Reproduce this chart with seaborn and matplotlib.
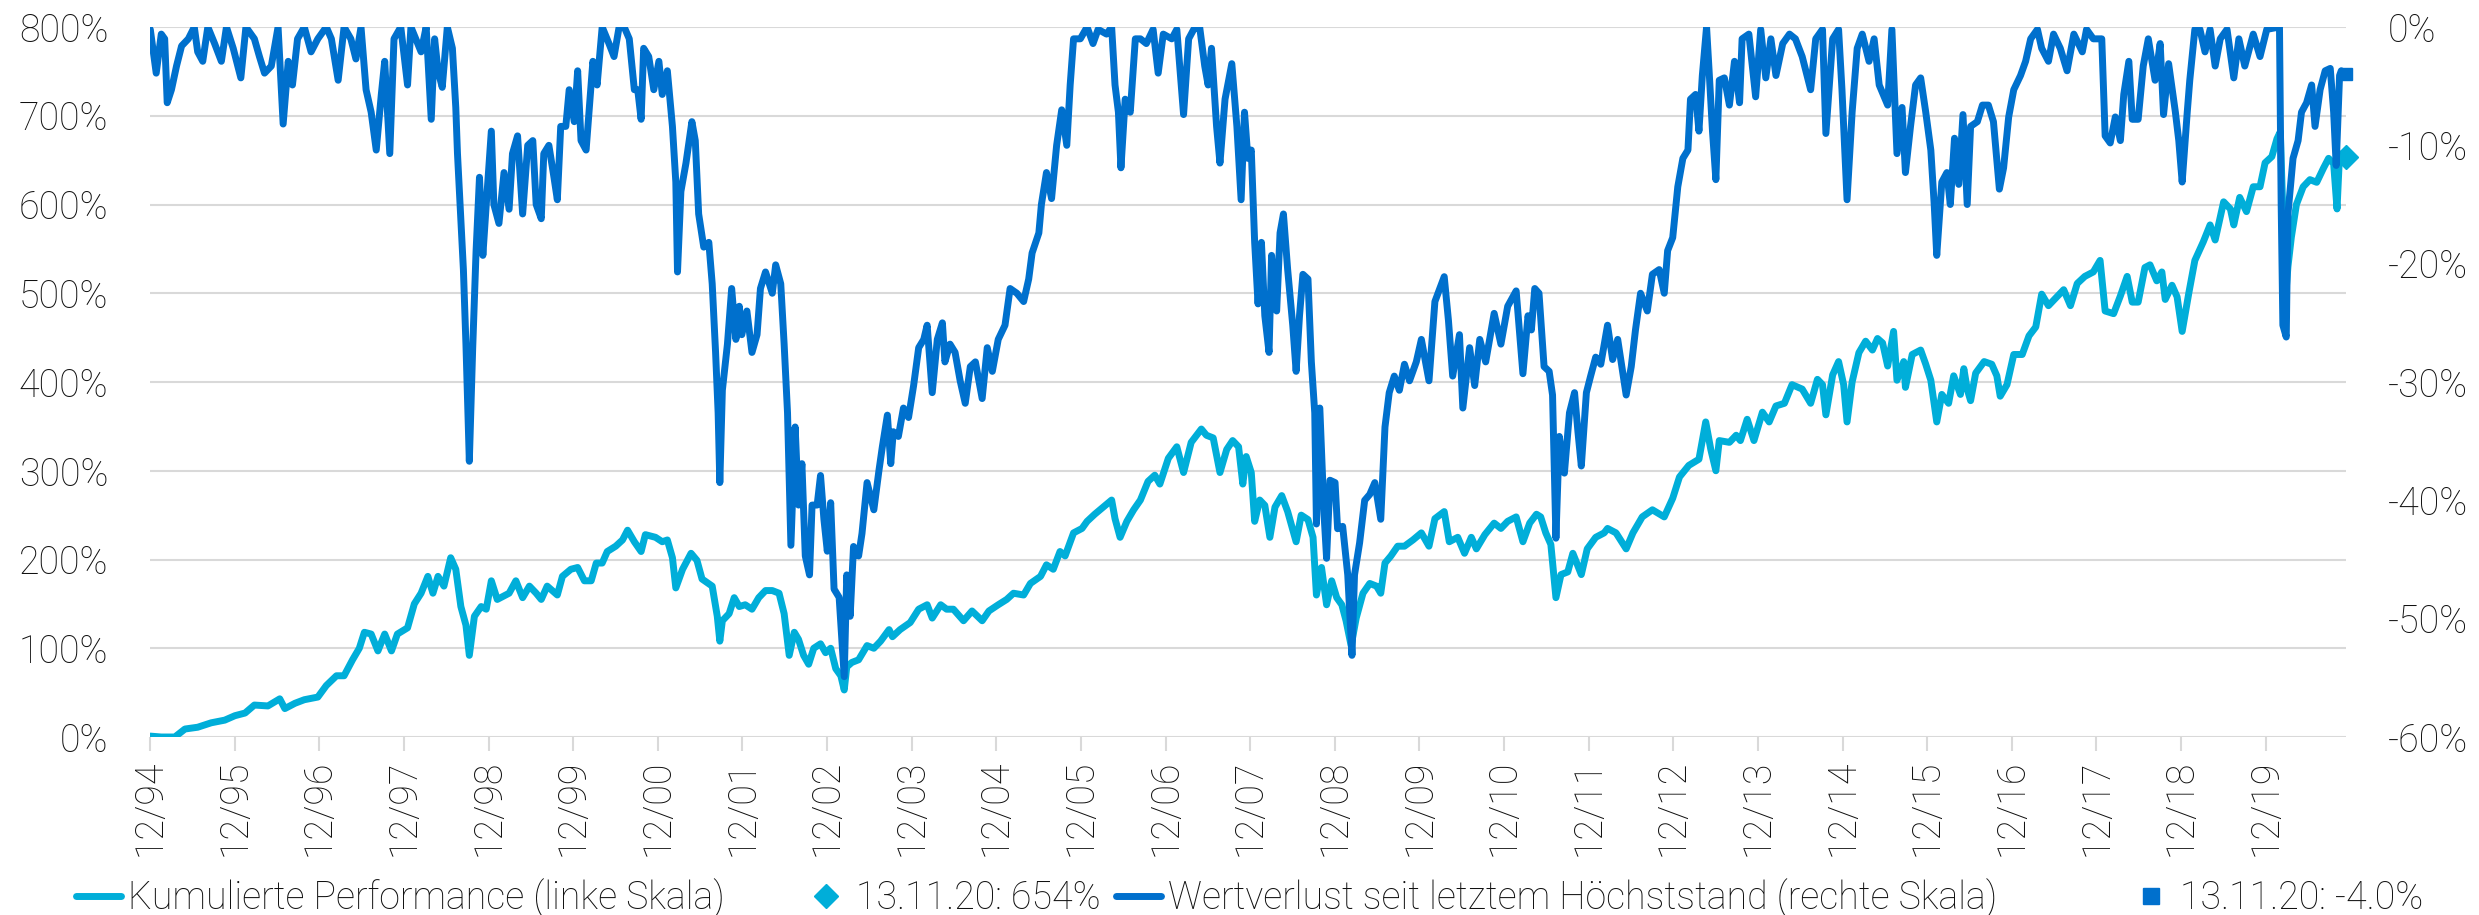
import matplotlib
matplotlib.use("Agg")
import matplotlib.pyplot as plt
import seaborn as sns
import pandas as pd
from matplotlib.lines import Line2D

# Kumulierte Performance (linke Skala), Jahr als Dezimalzahl / Wert in %
perf_jahr = [
    1994.92, 1995.05, 1995.21, 1995.33, 1995.48, 1995.64, 1995.80, 1995.92, 1996.04, 1996.15,
    1996.31, 1996.45, 1996.51, 1996.63, 1996.74, 1996.90, 1997.00, 1997.12, 1997.21, 1997.31,
    1997.39, 1997.45, 1997.53, 1997.61, 1997.69, 1997.77, 1997.84, 1997.96, 1998.04, 1998.12,
    1998.20, 1998.26, 1998.32, 1998.39, 1998.47, 1998.53, 1998.59, 1998.65, 1998.69, 1998.75,
    1998.83, 1998.89, 1998.95, 1999.02, 1999.12,
    1999.16, 1999.24, 1999.32, 1999.40, 1999.48, 1999.54, 1999.61, 1999.73, 1999.79, 1999.89,
    1999.97, 2000.05, 2000.13, 2000.19, 2000.26, 2000.32, 2000.42, 2000.50, 2000.56, 2000.64,
    2000.72, 2000.77, 2000.89, 2000.97, 2001.03, 2001.09, 2001.13, 2001.21, 2001.31, 2001.38,
    2001.44, 2001.56, 2001.62, 2001.65, 2001.68, 2001.76, 2001.82, 2001.88, 2001.95, 2002.03,
    2002.11, 2002.19, 2002.27, 2002.35, 2002.41, 2002.47, 2002.53, 2002.58, 2002.64, 2002.70,
    2002.76, 2002.84, 2002.90, 2002.96, 2003.02, 2003.08, 2003.12, 2003.15, 2003.21, 2003.29,
    2003.39,
    2003.47, 2003.55, 2003.65, 2003.69, 2003.78, 2003.90, 2004.00, 2004.10, 2004.16, 2004.26,
    2004.33, 2004.41, 2004.53, 2004.63, 2004.75, 2004.83, 2004.94, 2005.04, 2005.12, 2005.24,
    2005.32, 2005.44, 2005.51, 2005.59, 2005.67, 2005.73, 2005.83, 2005.93, 2005.99, 2006.08,
    2006.18, 2006.28, 2006.32, 2006.38, 2006.46, 2006.54, 2006.62, 2006.71, 2006.79, 2006.85,
    2006.95, 2007.05, 2007.13, 2007.22, 2007.34, 2007.40, 2007.48, 2007.56, 2007.64, 2007.71,
    2007.78, 2007.83, 2007.87, 2007.93, 2007.97, 2008.03, 2008.09, 2008.15, 2008.21, 2008.29,
    2008.36, 2008.46, 2008.52, 2008.60, 2008.66, 2008.70, 2008.76, 2008.82, 2008.88, 2008.94,
    2009.00, 2009.05, 2009.11, 2009.17, 2009.25, 2009.33, 2009.41, 2009.46, 2009.51, 2009.58,
    2009.66, 2009.74, 2009.84, 2009.94, 2010.03, 2010.10, 2010.21, 2010.27, 2010.37, 2010.45,
    2010.53, 2010.59, 2010.69, 2010.80, 2010.88, 2010.96, 2011.06, 2011.14, 2011.22, 2011.30,
    2011.35, 2011.41, 2011.47, 2011.53, 2011.59, 2011.67, 2011.73, 2011.83, 2011.90, 2012.00,
    2012.10,
    2012.14, 2012.24, 2012.36, 2012.44, 2012.55, 2012.67, 2012.81, 2012.91, 2012.99, 2013.10,
    2013.22, 2013.30, 2013.36, 2013.42, 2013.46, 2013.58, 2013.66, 2013.71, 2013.79, 2013.87,
    2013.97, 2014.05, 2014.13, 2014.23, 2014.32, 2014.44, 2014.54, 2014.62, 2014.68, 2014.72,
    2014.80, 2014.87, 2014.93, 2014.97, 2015.03, 2015.11, 2015.19, 2015.27, 2015.33, 2015.39,
    2015.45, 2015.52, 2015.56, 2015.64, 2015.66, 2015.74, 2015.84, 2015.90, 2015.96, 2016.03,
    2016.09, 2016.17, 2016.23, 2016.31, 2016.35,
    2016.39, 2016.43, 2016.49, 2016.59, 2016.68, 2016.74, 2016.78, 2016.86, 2016.94, 2017.04,
    2017.12, 2017.20, 2017.27, 2017.35, 2017.43, 2017.53, 2017.61, 2017.69, 2017.78, 2017.88,
    2017.96, 2018.02, 2018.12, 2018.20, 2018.28, 2018.34, 2018.41, 2018.49, 2018.55, 2018.63,
    2018.69, 2018.73, 2018.81, 2018.87, 2018.93, 2019.01, 2019.08, 2019.18, 2019.26, 2019.32,
    2019.42, 2019.50, 2019.54, 2019.61, 2019.69, 2019.77, 2019.85, 2019.91, 2019.99, 2020.05,
    2020.09, 2020.12, 2020.14, 2020.18, 2020.22, 2020.28, 2020.36, 2020.44, 2020.52, 2020.60,
    2020.66, 2020.72, 2020.76, 2020.79, 2020.866,
]
perf_wert = [
    1, 0, 0, 9, 11, 16, 19, 24, 27, 36,
    35, 43, 32, 38, 42, 45, 58, 69, 69, 87,
    100, 118, 116, 97, 116, 97, 116, 123, 150, 162,
    181, 162, 181, 170, 202, 189, 147, 126, 92, 136,
    147, 144, 176, 155, 160,
    162, 176, 157, 170, 162, 155, 170, 160, 181, 189,
    191, 176, 176, 196, 196, 209, 215, 222, 233, 220,
    209, 228, 225, 220, 222, 202, 168, 189, 207, 199,
    178, 170, 136, 108, 131, 139, 157, 147, 149, 144,
    157, 165, 165, 162, 139, 92, 118, 110, 92, 82,
    100, 105, 95, 100, 77, 69, 53, 79, 84, 87,
    103,
    100, 108, 121, 113, 121, 129, 144, 149, 134, 149,
    144, 144, 131, 142, 131, 142, 149, 155, 162, 160,
    173, 181, 194, 189, 209, 204, 230, 235, 243, 251,
    259, 267, 246, 225, 243, 256, 267, 288, 295, 285,
    314, 327, 298, 332, 347, 340, 337, 298, 324, 334,
    327, 285, 316, 298, 243, 267, 261, 225, 259, 272,
    254, 220, 250, 245, 225, 160, 191, 149, 176, 157,
    149, 131, 103, 134, 162, 173, 170, 162, 196, 204,
    215, 215, 222, 230, 215, 246, 254, 220, 225, 207,
    225, 212, 228, 241, 235, 243, 248, 220, 241, 251,
    248, 230, 217, 157, 183, 186, 207, 183, 212, 225,
    230,
    235, 230, 212, 230, 248, 256, 248, 269, 293, 306,
    313, 355, 324, 300, 334, 332, 340, 334, 358, 334,
    366, 355, 373, 376, 397, 392, 376, 403, 397, 363,
    408, 423, 397, 355, 400, 433, 446, 436, 449, 444,
    418, 457, 402, 423, 394, 431, 436, 420, 402, 355,
    386, 376, 407, 386, 415,
    392, 379, 410, 423, 420, 407, 384, 397, 431, 431,
    452, 462, 499, 486, 494, 504, 486, 511, 519, 524,
    537, 480, 477, 497, 519, 490, 490, 529, 532, 514,
    524, 493, 509, 496, 457, 501, 537, 558, 577, 560,
    603, 595, 577, 608, 592, 620, 620, 647, 654, 674,
    682, 590, 480, 530, 563, 600, 620, 628, 625, 641,
    652, 646, 595, 657, 654,
]

# Wertverlust seit letztem Höchststand (rechte Skala), in %
dd_jahr = [
    1994.92, 1994.95, 1994.99, 1995.05, 1995.09, 1995.12, 1995.17, 1995.23, 1995.29, 1995.37,
    1995.44, 1995.48, 1995.54, 1995.60, 1995.68, 1995.76, 1995.82, 1995.90, 1995.99, 1996.05,
    1996.15, 1996.21, 1996.27, 1996.35, 1996.43, 1996.49, 1996.55, 1996.60, 1996.66, 1996.74,
    1996.82, 1996.90, 1997.00, 1997.06, 1997.14, 1997.21, 1997.29, 1997.35, 1997.41, 1997.47,
    1997.53, 1997.59, 1997.65, 1997.69, 1997.75, 1997.80, 1997.88, 1997.96, 1998.00, 1998.12,
    1998.18, 1998.24, 1998.28, 1998.32, 1998.37, 1998.43, 1998.49, 1998.53, 1998.55, 1998.59,
    1998.62, 1998.65, 1998.69, 1998.73, 1998.77, 1998.81, 1998.85, 1998.89, 1998.95, 1998.98,
    1999.04, 1999.10,
    1999.16, 1999.20, 1999.26, 1999.32, 1999.38, 1999.44, 1999.48, 1999.54, 1999.57, 1999.63,
    1999.69, 1999.73, 1999.77, 1999.83, 1999.87, 1999.93, 1999.97, 2000.01, 2000.07, 2000.11,
    2000.15, 2000.20, 2000.26, 2000.34, 2000.40, 2000.46, 2000.52, 2000.58, 2000.64, 2000.68,
    2000.72, 2000.75, 2000.81, 2000.87, 2000.93, 2000.97, 2001.03, 2001.09, 2001.13, 2001.15,
    2001.19, 2001.25, 2001.32, 2001.36, 2001.40, 2001.46, 2001.52, 2001.56, 2001.60, 2001.63,
    2001.65, 2001.68, 2001.74, 2001.79, 2001.84, 2001.88, 2001.91, 2001.97, 2002.03, 2002.09,
    2002.13, 2002.19, 2002.27, 2002.31, 2002.37, 2002.41, 2002.45, 2002.49, 2002.54, 2002.58,
    2002.62, 2002.66, 2002.71, 2002.74, 2002.80, 2002.84, 2002.88, 2002.92, 2002.96, 2003.00,
    2003.06, 2003.12, 2003.15, 2003.19, 2003.23, 2003.29, 2003.33, 2003.39,
    2003.47, 2003.53, 2003.57, 2003.63, 2003.67, 2003.70, 2003.76, 2003.82, 2003.88, 2003.94,
    2004.00, 2004.06, 2004.10, 2004.16, 2004.22, 2004.28, 2004.31, 2004.37, 2004.43, 2004.49,
    2004.55, 2004.61, 2004.67, 2004.75, 2004.81, 2004.87, 2004.94, 2005.02, 2005.08, 2005.16,
    2005.24, 2005.30, 2005.34, 2005.42, 2005.45, 2005.51, 2005.57, 2005.63, 2005.69, 2005.75,
    2005.79, 2005.83, 2005.91, 2005.99, 2006.06, 2006.12, 2006.22, 2006.28, 2006.32, 2006.36,
    2006.39, 2006.44, 2006.50, 2006.56, 2006.62, 2006.69, 2006.77, 2006.83, 2006.89, 2006.99,
    2007.05, 2007.13, 2007.19, 2007.25, 2007.32, 2007.38, 2007.42, 2007.46, 2007.52, 2007.56,
    2007.62, 2007.70, 2007.76,
    2007.81, 2007.85, 2007.89, 2007.93, 2007.97, 2008.01, 2008.05, 2008.09, 2008.14, 2008.17,
    2008.23, 2008.27, 2008.31, 2008.36, 2008.42, 2008.46, 2008.50, 2008.54, 2008.60, 2008.64,
    2008.68, 2008.70, 2008.74, 2008.79, 2008.82, 2008.86, 2008.92, 2008.95, 2009.01, 2009.07,
    2009.12, 2009.15, 2009.21, 2009.27, 2009.33, 2009.39, 2009.46, 2009.51, 2009.56, 2009.62,
    2009.68, 2009.74, 2009.80, 2009.88, 2009.94, 2010.03, 2010.10, 2010.21, 2010.26, 2010.31,
    2010.39, 2010.43, 2010.51, 2010.57, 2010.63, 2010.70, 2010.80, 2010.88, 2010.96, 2011.06,
    2011.14, 2011.20, 2011.24, 2011.28, 2011.33, 2011.39, 2011.45, 2011.49, 2011.53, 2011.57,
    2011.63, 2011.69, 2011.75, 2011.79, 2011.83, 2011.89, 2011.94, 2012.00, 2012.06,
    2012.14, 2012.20, 2012.26, 2012.36, 2012.42, 2012.47, 2012.53, 2012.61, 2012.67, 2012.75,
    2012.81, 2012.85, 2012.91, 2012.97, 2013.03, 2013.09, 2013.12, 2013.18, 2013.22, 2013.26,
    2013.31, 2013.34, 2013.38, 2013.42, 2013.46, 2013.52, 2013.58, 2013.64, 2013.70, 2013.73,
    2013.81, 2013.89, 2013.95, 2014.01, 2014.07, 2014.13, 2014.21, 2014.29, 2014.36, 2014.44,
    2014.54, 2014.60, 2014.68, 2014.72, 2014.80, 2014.87, 2014.91, 2014.97, 2015.03, 2015.09,
    2015.15, 2015.23, 2015.29, 2015.35, 2015.45, 2015.50, 2015.56, 2015.62, 2015.66, 2015.72,
    2015.78, 2015.84, 2015.90, 2015.96, 2016.00, 2016.03, 2016.09, 2016.15, 2016.19, 2016.24,
    2016.29, 2016.34,
    2016.39, 2016.43, 2016.51, 2016.57, 2016.64, 2016.70, 2016.77, 2016.82, 2016.88, 2016.94,
    2017.02, 2017.08, 2017.14, 2017.22, 2017.27, 2017.35, 2017.41, 2017.49, 2017.57, 2017.65,
    2017.75, 2017.80, 2017.88, 2017.98, 2018.02, 2018.08, 2018.14, 2018.20, 2018.24, 2018.30,
    2018.34, 2018.41, 2018.47, 2018.53, 2018.61, 2018.67, 2018.71, 2018.77, 2018.85, 2018.89,
    2018.93, 2018.99, 2019.02, 2019.08, 2019.14, 2019.20, 2019.26, 2019.32, 2019.38, 2019.46,
    2019.54, 2019.60, 2019.67, 2019.77, 2019.85, 2019.93, 2020.08, 2020.10, 2020.12, 2020.16,
    2020.18, 2020.24, 2020.30, 2020.34, 2020.40, 2020.46, 2020.50, 2020.56, 2020.62, 2020.68,
    2020.72, 2020.75, 2020.79, 2020.81, 2020.866,
]
dd_wert = [
    -0.2, -1.8, -3.9, -0.6, -1.0, -6.4, -5.3, -3.3, -1.6, -1.0,
    0.0, -2.1, -2.9, 0.0, -1.4, -2.9, 0.0, -1.8, -4.3, 0.0,
    -1.0, -2.5, -3.9, -3.3, 0.0, -8.2, -2.9, -4.9, -1.0, 0.0,
    -2.1, -1.0, 0.0, -1.0, -4.5, 0.0, -1.0, -2.7, 0.0, -5.3,
    -7.2, -10.4, -5.7, -2.9, -10.7, -1.0, 0.0, -4.9, 0.0, -2.1,
    0.0, -7.8, -1.0, -3.7, -5.1, 0.0, -1.8, -6.8, -10.7, -16.2,
    -20.5, -26.8, -36.7, -27.1, -18.9, -12.7, -19.3, -15.0, -8.8, -15.0,
    -16.6, -12.3,
    -15.4, -10.7, -9.2, -15.8, -10.0, -9.6, -15.0, -16.2, -10.7, -10.0,
    -12.7, -14.6, -8.4, -8.4, -5.3, -8.0, -3.7, -9.6, -10.4, -6.6,
    -2.9, -4.9, 0.0, -1.4, -2.5, 0.0, 0.0, -1.0, -5.3, -5.3,
    -7.8, -1.8, -2.5, -5.3, -2.9, -5.7, -3.7, -8.4, -13.1, -20.7,
    -13.9, -11.5, -8.0, -9.6, -15.8, -18.6, -18.2, -21.7, -27.5, -32.6,
    -38.5, -30.7, -26.8, -22.1, -26.4, -23.6, -26.0, -24.0, -27.5, -26.0,
    -22.1, -20.7, -22.5, -20.1, -21.7, -26.8, -32.6, -43.8, -33.8, -40.4,
    -36.9, -44.7, -46.3, -40.4, -40.4, -37.9, -41.6, -44.3, -40.2, -47.5,
    -48.2, -54.9, -46.3, -49.8, -43.9, -44.7, -42.8, -38.5,
    -40.8, -37.5, -35.5, -32.8, -36.9, -34.2, -34.6, -32.2, -33.0, -30.3,
    -27.1, -26.4, -25.2, -30.9, -26.4, -25.0, -28.3, -26.8, -27.5, -29.9,
    -31.8, -28.7, -28.3, -31.4, -27.1, -29.1, -26.4, -25.2, -22.1, -22.5,
    -23.2, -21.3, -19.1, -17.4, -15.0, -12.3, -14.5, -10.0, -7.0, -10.0,
    -4.9, -1.0, -1.0, 0.0, -1.4, -0.2, -0.6, 0.0, -4.9, -7.2,
    -11.9, -6.1, -7.2, -1.0, -1.0, -1.4, -0.2, -3.9, -0.6, -1.0,
    -0.2, -7.4, -1.0, -0.2, 0.0, -3.3, -4.9, -1.8, -8.4, -11.5,
    -6.1, -3.1, -8.4,
    -14.6, -7.2, -11.1, -10.4, -18.2, -23.4, -18.2, -24.4, -27.5, -19.3,
    -24.0, -17.4, -15.8, -20.5, -25.2, -29.1, -24.4, -20.9, -21.3, -28.3,
    -32.6, -42.0, -32.2, -41.2, -44.9, -38.3, -38.5, -42.4, -42.2, -46.3,
    -53.1, -46.3, -43.6, -40.0, -39.5, -38.5, -41.6, -33.8, -30.9, -29.5,
    -30.7, -28.5, -29.9, -28.3, -26.4, -29.9, -23.2, -21.1, -24.8, -29.5,
    -26.0, -32.2, -27.1, -30.3, -26.4, -28.3, -24.2, -26.8, -23.6, -22.3,
    -29.3, -24.4, -25.6, -22.1, -22.5, -28.7, -29.1, -31.1, -43.2, -34.6,
    -37.7, -32.6, -30.9, -34.2, -37.1, -30.9, -29.5, -27.9, -28.5,
    -25.2, -28.1, -26.4, -31.1, -28.7, -25.6, -22.5, -24.0, -20.9, -20.5,
    -22.5, -18.9, -17.8, -13.5, -11.1, -10.4, -6.1, -5.7, -8.8, -4.1,
    0.0, -3.7, -8.8, -12.9, -4.5, -4.3, -6.6, -2.9, -6.4, -1.0,
    -0.6, -5.9, -0.2, -4.3, -1.0, -4.1, -1.4, -0.6, -1.0, -2.5,
    -5.3, -1.0, -0.2, -9.0, -1.0, -0.2, -5.3, -14.6, -7.2, -1.8,
    -0.6, -2.9, -1.0, -4.9, -6.6, -0.2, -10.7, -6.8, -12.3, -8.4,
    -4.9, -4.3, -7.2, -10.4, -15.0, -19.3, -13.1, -12.3, -15.0, -9.4,
    -13.3, -7.4,
    -15.0, -8.4, -8.0, -6.6, -6.6, -8.0, -13.7, -11.9, -7.6, -5.3,
    -4.1, -2.9, -1.0, -0.2, -1.8, -2.9, -0.6, -1.8, -3.7, -0.6,
    -2.1, -0.2, -1.0, -1.0, -9.2, -9.8, -7.6, -9.6, -5.7, -2.9,
    -7.8, -7.8, -3.3, -1.0, -4.5, -1.4, -7.4, -3.1, -7.2, -9.6,
    -13.1, -7.2, -4.5, -0.2, -0.2, -2.1, -0.2, -3.3, -1.0, -0.2,
    -4.3, -1.0, -3.3, -0.6, -2.5, -0.2, 0.0, -15.0, -25.2, -26.2,
    -15.8, -11.1, -9.6, -7.2, -6.4, -4.9, -8.4, -5.3, -3.7, -3.5,
    -7.2, -11.7, -4.1, -3.7, -4.0,
]

x_labels = ['12/94', '12/95', '12/96', '12/97', '12/98', '12/99', '12/00', '12/01', '12/02',
            '12/03', '12/04', '12/05', '12/06', '12/07', '12/08', '12/09', '12/10', '12/11',
            '12/12', '12/13', '12/14', '12/15', '12/16', '12/17', '12/18', '12/19']
links_ticks = [0, 100, 200, 300, 400, 500, 600, 700, 800]
rechts_ticks = [0, -10, -20, -30, -40, -50, -60]

stichtag = 2020.866   # 13.11.20
perf_letzter = 654
dd_letzter = -4.0

hell = '#00AED9'
dunkel = '#0070CD'
grau = '#D9D9D9'
schrift = '#111111'

perf = pd.DataFrame({'Jahr': perf_jahr, 'Wert': perf_wert})
dd = pd.DataFrame({'Jahr': dd_jahr, 'Wert': dd_wert})

sns.set_theme(style='white')
plt.rcParams['font.family'] = ['Roboto', 'DejaVu Sans']
plt.rcParams['font.weight'] = 'light'
plt.rcParams['text.color'] = schrift
plt.rcParams['xtick.color'] = schrift
plt.rcParams['ytick.color'] = schrift
fs = 27

W, H = 2479, 915
fig = plt.figure(figsize=(W / 100, H / 100), dpi=100)
ax = fig.add_axes([150 / W, 1 - 737 / H, (2346 - 150) / W, (737 - 27) / H])
ax2 = ax.twinx()

sns.lineplot(data=perf, x='Jahr', y='Wert', ax=ax, color=hell, linewidth=5, sort=False,
             estimator=None, solid_joinstyle='round')
sns.lineplot(data=dd, x='Jahr', y='Wert', ax=ax2, color=dunkel, linewidth=5, sort=False,
             estimator=None, solid_joinstyle='round')
ax.plot([stichtag], [perf_letzter], marker='D', ms=12, color=hell, clip_on=False, zorder=5)
ax2.plot([stichtag], [dd_letzter], marker='s', ms=8, color=dunkel, clip_on=False, zorder=5)

x_pos = [(2000 if int(l[3:]) < 50 else 1900) + int(l[3:]) + 11 / 12 for l in x_labels]
ax.set_xlim(x_pos[0], stichtag)
ax.set_ylim(0, 800)
ax2.set_ylim(-60, 0)

ax.set_xticks(x_pos)
ax.set_xticklabels(x_labels, rotation=90, fontsize=fs)
ax.set_yticks(links_ticks)
ax.set_yticklabels([f'{v}%' for v in links_ticks], fontsize=fs)
ax2.set_yticks(rechts_ticks)
ax2.set_yticklabels([f'{v}%' for v in rechts_ticks], fontsize=fs)

ax.grid(axis='y', color=grau, lw=1.5)
ax.grid(axis='x', visible=False)
ax.set_axisbelow(True)
ax.tick_params(axis='x', length=10, width=1.5, color=grau, labelcolor=schrift, pad=6,
               direction='out', bottom=True)
ax.tick_params(axis='y', length=0, pad=30, labelcolor=schrift)
ax2.tick_params(axis='y', length=0, pad=30, labelcolor=schrift)
ax.set_xlabel('')
ax.set_ylabel('')
ax2.set_ylabel('')
for a in (ax, ax2):
    for s in a.spines.values():
        s.set_visible(False)

# Legende
eintraege = [
    (Line2D([], [], color=hell, lw=5), 'Kumulierte Performance (linke Skala)', 76),
    (Line2D([], [], color=hell, lw=0, marker='D', ms=12), '13.11.20: 654%', 803),
    (Line2D([], [], color=dunkel, lw=5), 'Wertverlust seit letztem Höchststand (rechte Skala)', 1116),
    (Line2D([], [], color=dunkel, lw=0, marker='s', ms=12), '13.11.20: -4.0%', 2128),
]
for h, txt, x0 in eintraege:
    fig.legend(handles=[h], labels=[txt], loc='center left', bbox_to_anchor=(x0 / W, 1 - 898 / H),
               frameon=False, fontsize=fs, handlelength=1.2, handletextpad=0.2,
               borderpad=0, borderaxespad=0)

fig.savefig('out.png', dpi=100)
